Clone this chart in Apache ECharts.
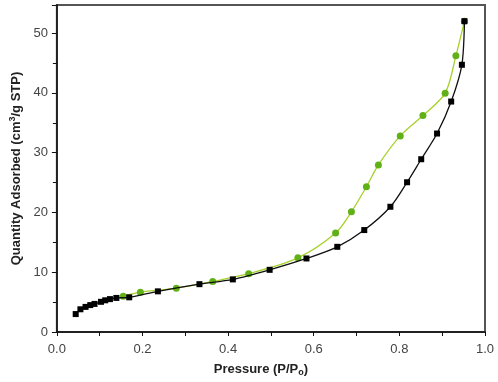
<!DOCTYPE html>
<html>
<head>
<meta charset="utf-8">
<script src="https://cdn.jsdelivr.net/npm/echarts@6/dist/echarts.min.js"></script>
<style>
  html, body {margin: 0; padding: 0; background: #fff;}
  #chart {width: 498px; height: 382px;}
</style>
</head>
<body>
<div id="chart"></div>
<script>
// adsorption branch (black squares)
const adsX = [0.044, 0.055, 0.067, 0.078, 0.088, 0.103, 0.113, 0.124, 0.139, 0.169, 0.236, 0.333, 0.411, 0.497, 0.583, 0.655, 0.718, 0.779, 0.818, 0.851, 0.888, 0.921, 0.946, 0.952]
const adsY = [3.0, 3.8, 4.2, 4.5, 4.7, 5.05, 5.3, 5.5, 5.7, 5.8, 6.8, 8.0, 8.8, 10.4, 12.3, 14.25, 17.05, 20.95, 25.05, 28.9, 33.2, 38.55, 44.7, 52.0]

// desorption branch (green circles)
const desX = [0.952, 0.932, 0.907, 0.855, 0.802, 0.751, 0.723, 0.688, 0.651, 0.563, 0.448, 0.364, 0.279, 0.195, 0.155]
const desY = [52.0, 46.2, 39.95, 36.2, 32.8, 27.95, 24.3, 20.1, 16.55, 12.4, 9.75, 8.45, 7.33, 6.67, 6.0]

const xTicks = [0, 0.2, 0.4, 0.6, 0.8, 1.0]
const yTicks = [0, 10, 20, 30, 40, 50]

const pairs = function (xs, ys) {
  return xs.map((x, i) => [x, ys[i]])
}

const chart = echarts.init(document.getElementById('chart'))

const axisFont = {fontFamily: 'Liberation Sans, Arial, sans-serif', fontSize: 13, color: '#444'}

chart.setOption({
  animation: false,
  backgroundColor: '#fff',
  grid: {
    left: 52, right: 13, top: 5, bottom: 49,
    show: true,
    borderColor: '#555',
    borderWidth: 2,
  },
  xAxis: {
    type: 'value',
    min: xTicks[0],
    max: xTicks[xTicks.length - 1],
    interval: 0.2,
    splitLine: {show: false},
    axisLine: {lineStyle: {color: '#111', width: 1.5}},
    axisTick: {length: 4, lineStyle: {color: '#111'}},
    minorTick: {show: true, splitNumber: 2, length: 4, lineStyle: {color: '#111'}},
    axisLabel: {...axisFont, margin: 11, formatter: v => v.toFixed(1)},
    name: 'Pressure (P/P{sub|o})',
    nameLocation: 'middle',
    nameGap: 29,
    nameTextStyle: {
      fontFamily: 'Liberation Sans, Arial, sans-serif',
      fontSize: 13,
      fontWeight: 'bold',
      color: '#222',
      padding: [0, 20, 0, 0],
      rich: {
        sub: {fontSize: 9, fontWeight: 'bold', verticalAlign: 'bottom', padding: [7, 0, 0, 0], color: '#222'},
      },
    },
  },
  yAxis: {
    type: 'value',
    min: yTicks[0],
    max: 54.7,
    interval: 10,
    splitLine: {show: false},
    axisLine: {show: true, lineStyle: {color: '#111', width: 1.5}},
    axisTick: {show: true, length: 5, lineStyle: {color: '#111'}},
    minorTick: {show: true, splitNumber: 2, length: 4, lineStyle: {color: '#111'}},
    axisLabel: {...axisFont, margin: 9, showMaxLabel: false},
    name: 'Quantity Adsorbed (cm{sup|3}/g STP)',
    nameLocation: 'middle',
    nameGap: 32,
    nameTextStyle: {
      fontFamily: 'Liberation Sans, Arial, sans-serif',
      fontSize: 13,
      fontWeight: 'bold',
      color: '#222',
      rich: {
        sup: {fontSize: 9, fontWeight: 'bold', verticalAlign: 'top', padding: [0, 0, 7, 0], color: '#222'},
      },
    },
  },
  series: [
    {
      name: 'desorption',
      type: 'line',
      data: pairs(desX, desY),
      smooth: 0.3,
      symbol: 'circle',
      symbolSize: 7,
      itemStyle: {color: '#62b018'},
      lineStyle: {color: '#a6d12a', width: 1.3},
      z: 2,
    },
    {
      name: 'adsorption',
      type: 'line',
      data: pairs(adsX, adsY),
      smooth: 0.3,
      symbol: 'rect',
      symbolSize: 6,
      itemStyle: {color: '#000'},
      lineStyle: {color: '#111', width: 1.3},
      z: 3,
    },
  ],
})
</script>
</body>
</html>
